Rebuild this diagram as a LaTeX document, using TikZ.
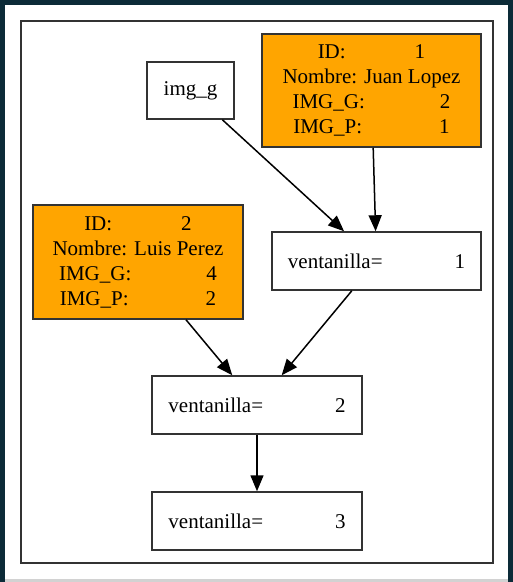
\documentclass[tikz,border=0pt]{standalone}
\usepackage{fontspec}
\setmainfont{Liberation Serif}
\usetikzlibrary{arrows.meta,positioning}

\definecolor{frameteal}{HTML}{0C2B38}
\definecolor{gvorange}{HTML}{FFA500}
\definecolor{boxline}{HTML}{333333}

\tikzset{
  plainbox/.style={draw=boxline, line width=1.5pt, fill=white, inner sep=0pt,
    minimum width=87pt, minimum height=57pt},
  ventbox/.style={plainbox, minimum width=210pt, minimum height=58pt},
  infobox/.style={plainbox, fill=gvorange, align=center,
    minimum width=219pt, minimum height=113pt},
}

\begin{document}
\begin{tikzpicture}[font=\fontsize{21}{25}\selectfont, on grid,
    >={Triangle[length=16pt,width=13pt]}, line width=1.5pt]
    \useasboundingbox (0,0) rectangle (513pt,-582pt);
    \fill[frameteal] (0,0) rectangle (513pt,-582pt);
    \fill[white] (5pt,-5pt) rectangle (508pt,-579pt);
    \fill[gray!35] (5pt,-579pt) rectangle (508pt,-582pt);
    \draw[boxline] (21pt,-21pt) rectangle (493pt,-563pt);

    \node[plainbox] (img) at (190.5pt,-90.5pt) {img\_g};
    \node[infobox, right=181pt of img] (juan)
        {ID:\hspace{69pt}1\hspace{9pt}\\ Nombre: Juan Lopez\\
         IMG\_G:\hspace{75pt}2\\ IMG\_P:\hspace{77pt}1};
    \node[ventbox, minimum width=209pt, below right=170.5pt and 5pt of juan] (v1)
        {ventanilla=\hspace{72pt}1\hspace{9pt}};
    \node[infobox, minimum width=210pt, minimum height=114pt,
          below left=1pt and 238.5pt of v1] (luis)
        {ID:\hspace{69pt}2\hspace{7pt}\\ Nombre: Luis Perez\\
         IMG\_G:\hspace{75pt}4\\ IMG\_P:\hspace{77pt}2};
    \node[ventbox, below left=144pt and 119.5pt of v1] (v2)
        {ventanilla=\hspace{72pt}2\hspace{8pt}};
    \node[ventbox, below=116pt of v2] (v3)
        {ventanilla=\hspace{72pt}3\hspace{8pt}};

    \draw[->] (img) edge (v1);
    \draw[->] (juan) edge (v1);
    \draw[->] (v1) edge (v2);
    \draw[->] (luis) edge (v2);
    \draw[->] (v2) edge (v3);
\end{tikzpicture}
\end{document}
